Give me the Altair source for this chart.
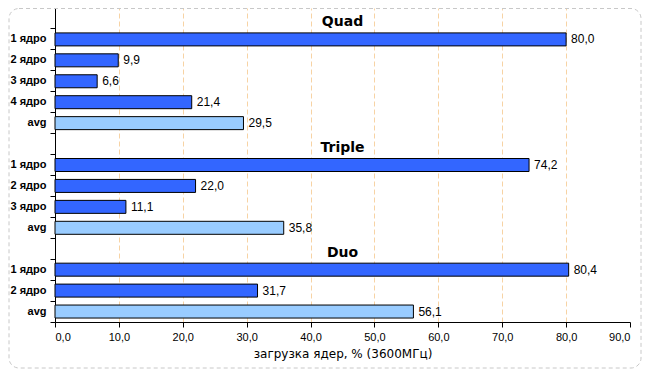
import altair as alt
import pandas as pd

# categories (group | row label); blank row label = group title slot
groups = ["Quad", "Triple", "Duo"]
quad_rows = ["1 ядро", "2 ядро", "3 ядро", "4 ядро", "avg"]
quad_vals = [80.0, 9.9, 6.6, 21.4, 29.5]
triple_rows = ["1 ядро", "2 ядро", "3 ядро", "avg"]
triple_vals = [74.2, 22.0, 11.1, 35.8]
duo_rows = ["1 ядро", "2 ядро", "avg"]
duo_vals = [80.4, 31.7, 56.1]
x_ticks = [0, 10, 20, 30, 40, 50, 60, 70, 80, 90]
x_title = "загрузка ядер, % (3600МГц)"

order = []
bars = []
titles = []
for g, rows, vals in [("Quad", quad_rows, quad_vals),
                      ("Triple", triple_rows, triple_vals),
                      ("Duo", duo_rows, duo_vals)]:
    tkey = g + "|"
    order.append(tkey)
    titles.append({"key": tkey, "title": g, "x": 45})
    for r, v in zip(rows, vals):
        k = g + "|" + r
        order.append(k)
        bars.append({"key": k, "v": v, "kind": "avg" if r == "avg" else "core"})

bars_df = pd.DataFrame(bars)
titles_df = pd.DataFrame(titles)

FONT = "Liberation Sans"

yscale = alt.Scale(domain=order, paddingInner=0, paddingOuter=0)
xscale = alt.Scale(domain=[0, 90], nice=False)

x_axis = alt.Axis(
    values=x_ticks,
    labelExpr="replace(format(datum.value, '.1f'), '.', ',')",
    title=x_title,
    titleFontWeight="normal",
    titleFontSize=12,
    titleFont="DejaVu Sans",
    titleColor="black",
    titlePadding=6,
    labelFont=FONT,
    labelFontSize=11,
    labelColor="black",
    labelPadding=4,
    tickColor="black",
    tickSize=5,
    domainColor="black",
    grid=True,
    gridColor="#f7d3a4",
    gridDash=[5, 3],
    gridOpacity={"condition": {"test": "datum.value >= 90 || datum.value <= 0", "value": 0}, "value": 1},
)

y_axis = alt.Axis(
    title=None,
    labelExpr="split(datum.label, '|')[1]",
    bandPosition=1,
    tickSize=5,
    tickColor="black",
    domainColor="black",
    labelFont=FONT,
    labelFontSize=11,
    labelFontWeight="bold",
    labelColor="black",
    labelPadding=4,
    grid=False,
)

bar_layer = alt.Chart(bars_df).mark_bar(size=13, stroke="black", strokeWidth=1).encode(
    x=alt.X("v:Q", scale=xscale, axis=x_axis),
    y=alt.Y("key:N", scale=yscale, axis=y_axis, sort=order),
    color=alt.Color("kind:N", scale=alt.Scale(domain=["core", "avg"], range=["#3366ff", "#99ccff"]), legend=None),
)

label_layer = alt.Chart(bars_df).transform_calculate(
    txt="replace(format(datum.v, '.1f'), '.', ',')"
).mark_text(align="left", baseline="middle", dx=5, font=FONT, fontSize=12, color="black").encode(
    x=alt.X("v:Q", scale=xscale),
    y=alt.Y("key:N", scale=yscale, sort=order),
    text="txt:N",
)

title_layer = alt.Chart(titles_df).mark_text(
    align="center", baseline="middle", dy=4, font="DejaVu Sans", fontSize=14, fontWeight="bold", color="black"
).encode(
    x=alt.X("x:Q", scale=xscale),
    y=alt.Y("key:N", scale=yscale, sort=order),
    text="title:N",
)

border = alt.Chart(alt.Data(values=[{"a": 1}])).mark_rect(
    fill=None, fillOpacity=0, stroke="#c8c8c8", strokeDash=[4, 3], strokeWidth=1, cornerRadius=10
).encode(
    x=alt.value(-46), x2=alt.value(586), y=alt.value(0.5), y2=alt.value(360)
)

chart = alt.layer(border, bar_layer, label_layer, title_layer).properties(
    width=575, height=314, padding={"left": 47, "top": 0, "right": 12, "bottom": 48},
    autosize=alt.AutoSizeParams(type="none"),
    background="white",
).configure_view(stroke=None)

chart.save("out.html", embed_options={"renderer": "svg", "actions": False})
